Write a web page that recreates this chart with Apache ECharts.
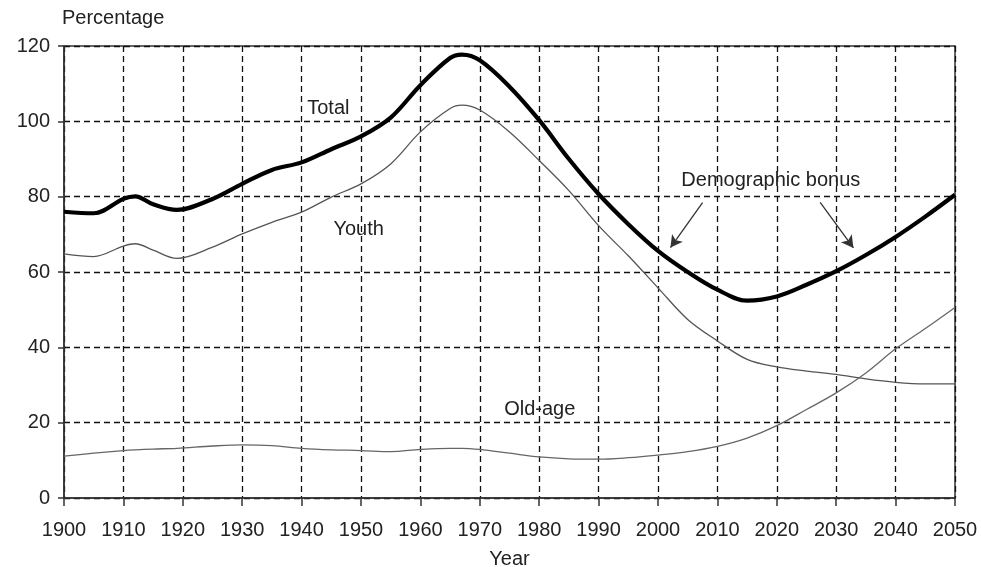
<!DOCTYPE html>
<html><head><meta charset="utf-8">
<script src="https://cdn.jsdelivr.net/npm/echarts@6/dist/echarts.min.js"></script>
<style>html,body{margin:0;padding:0;background:#fff}#c{width:981px;height:567px}</style>
</head><body><div id="c"></div>
<script>
const years  = [1900,1905,1910,1912,1915,1919,1925,1930,1935,1940,1945,1950,1955,1960,1965,1967,1970,1975,1980,1985,1990,1995,2000,2005,2010,2015,2020,2025,2030,2035,2040,2045,2050];
const total  = [76.0,75.6,79.4,80.1,78.0,76.5,79.4,83.4,87.1,89.1,92.6,96.0,101.0,109.6,116.8,117.7,116.2,109.2,100.3,90.0,80.7,72.7,65.6,60.0,55.3,52.4,53.5,56.6,60.2,64.5,69.3,74.7,80.5];
const youth  = [64.8,64.1,66.9,67.5,65.8,63.6,66.6,70.1,73.2,75.9,79.9,83.4,88.7,97.2,103.4,104.3,103.0,97.2,89.6,81.6,72.3,64.3,55.8,47.4,41.7,36.8,34.8,33.7,32.8,31.6,30.7,30.3,30.3];
const oldAge = [11.1,11.9,12.6,12.8,13.0,13.2,13.8,14.1,13.9,13.2,12.8,12.6,12.3,12.9,13.2,13.2,12.9,11.9,10.9,10.4,10.3,10.7,11.4,12.3,13.7,15.9,19.2,23.5,27.9,33.2,39.6,45.0,50.6];
const xTicks = [1900,1910,1920,1930,1940,1950,1960,1970,1980,1990,2000,2010,2020,2030,2040,2050];
const yTicks = [0,20,40,60,80,100,120];
const seriesNames = ['Total','Youth','Old-age'];
const textNotes = [
  {text:'Total', at:[1944.5,103.4]},
  {text:'Youth', at:[1949.6,71.2]},
  {text:'Old-age', at:[1980.1,23.4]},
  {text:'Demographic bonus', at:[2019.0,84.4]}
];
const arrows = [
  {from:[2007.5,78.4], to:[2002.1,66.5]},
  {from:[2027.3,78.5], to:[2032.9,66.4]}
];

const FONT = '"Liberation Sans", Arial, sans-serif';
const pair = arr => years.map((y,i)=>[y,arr[i]]);
const chart = echarts.init(document.getElementById('c'));
const option = {
  animation:false,
  backgroundColor:'#fff',
  grid:{left:64, right:26, top:46, bottom:69, containLabel:false, outerBoundsMode:'none',
        show:true, borderColor:'#333', borderWidth:1.5, backgroundColor:'transparent'},
  xAxis:{
    type:'value', min:xTicks[0], max:xTicks[xTicks.length-1], interval:10,
    name:'Year', nameLocation:'middle', nameGap:51,
    nameTextStyle:{fontFamily:FONT, fontSize:20, color:'#222'},
    axisLine:{show:true, onZero:false, lineStyle:{color:'#333', width:1.5}},
    axisTick:{show:true, length:8, lineStyle:{color:'#333', width:1.5}},
    axisLabel:{fontFamily:FONT, fontSize:20, color:'#222', margin:22, formatter:v=>xTicks.includes(v)?String(v):''},
    splitLine:{show:true, lineStyle:{color:'#111', width:1.3, type:[6,4]}}
  },
  yAxis:{
    type:'value', min:yTicks[0], max:yTicks[yTicks.length-1], interval:20,
    axisLine:{show:true, lineStyle:{color:'#333', width:1.5}},
    axisTick:{show:true, length:6, lineStyle:{color:'#333', width:1.5}},
    axisLabel:{fontFamily:FONT, fontSize:20, color:'#222', margin:14, formatter:v=>yTicks.includes(v)?String(v):''},
    splitLine:{show:true, lineStyle:{color:'#111', width:1.3, type:[6,4]}}
  },
  series:[
    {name:seriesNames[0], type:'line', data:pair(total), smooth:0.35, showSymbol:false, symbol:'none',
     lineStyle:{color:'#000', width:4.2}, z:5,
     markLine:{silent:true, symbol:['none','arrow'], symbolSize:[10,12], animation:false,
       lineStyle:{type:'solid', color:'#333', width:1.3}, label:{show:false},
       data:arrows.map(a=>[{coord:a.from},{coord:a.to}])}},
    {name:seriesNames[1], type:'line', data:pair(youth), smooth:0.35, showSymbol:false, symbol:'none',
     lineStyle:{color:'#555', width:1.3}},
    {name:seriesNames[2], type:'line', data:pair(oldAge), smooth:0.35, showSymbol:false, symbol:'none',
     lineStyle:{color:'#666', width:1.3}}
  ]
};
chart.setOption(option);
const g = [];
textNotes.forEach(n=>{
  const p = chart.convertToPixel({gridIndex:0}, n.at);
  g.push({type:'text', x:p[0], y:p[1], style:{text:n.text, font:'20px '+FONT, fill:'#222', align:'center', verticalAlign:'middle'}, z:10});
});
const topLeft = chart.convertToPixel({gridIndex:0}, [1900,120]);
g.push({type:'text', x:topLeft[0]-2, y:topLeft[1]-28, style:{text:'Percentage', font:'20px '+FONT, fill:'#222', align:'left', verticalAlign:'middle'}});
chart.setOption({graphic:g});
</script></body></html>
